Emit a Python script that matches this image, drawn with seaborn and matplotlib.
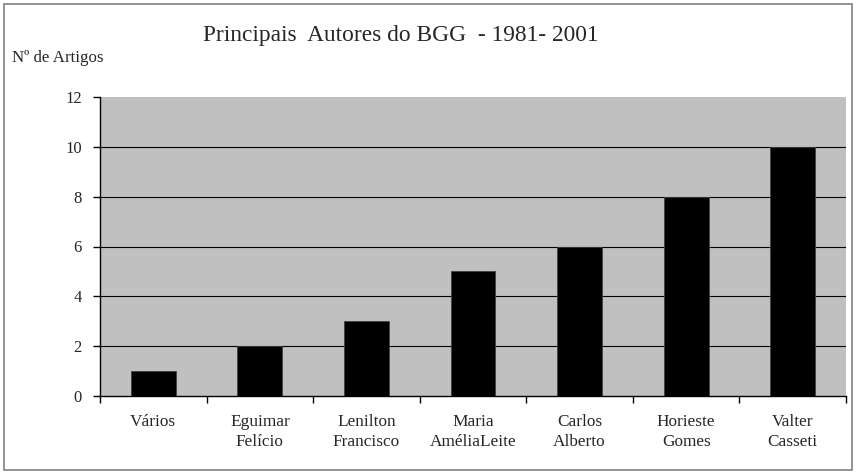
import matplotlib
matplotlib.use("Agg")
import matplotlib.pyplot as plt
import seaborn as sns
import pandas as pd
import numpy as np
from matplotlib.patches import Rectangle

categories = ["Vários", "Eguimar\nFelício", "Lenilton\nFrancisco", "Maria\nAméliaLeite",
              "Carlos\nAlberto", "Horieste\nGomes", "Valter\nCasseti"]
values = [1, 2, 3, 5, 6, 8, 10]
yticks = [0, 2, 4, 6, 8, 10, 12]
title = "Principais  Autores do BGG  - 1981- 2001"
ylabel = "Nº de Artigos"

sns.set_theme(style="white")
plt.rcParams['font.family'] = ['Liberation Serif', 'DejaVu Serif']

df = pd.DataFrame({"autor": categories, "artigos": values})

fig = plt.figure(figsize=(8.56, 4.74), dpi=100)
ax = fig.add_axes([100/856, 1-396/474, 746/856, 299/474])
ax.set_facecolor("#C0C0C0")

sns.barplot(data=df, x="autor", y="artigos", color="black", width=0.42,
            saturation=1, ax=ax, zorder=3, edgecolor="#404040", linewidth=0.6)

ax.set_ylim(0, 12)
ax.set_xlim(-0.5, len(categories) - 0.5)
ax.set_yticks(yticks)
ax.set_yticklabels([str(v) for v in yticks], fontsize=12)
for y in yticks[1:-1]:
    ax.axhline(y, color="black", linewidth=0.8, zorder=2)

ax.set_xticks(range(len(categories)))
ax.set_xticklabels(categories, fontsize=12.4, linespacing=1.3)
ax.set_xticks(np.arange(-0.5, len(categories), 1.0), minor=True)
ax.tick_params(axis="x", which="major", length=0, pad=13)
ax.tick_params(axis="x", which="minor", length=5, width=1, color="black", direction="out", bottom=True)
ax.tick_params(axis="y", length=5, width=1, color="black", direction="out", left=True, pad=8)

ax.set_xlabel("")
ax.set_ylabel("")
for s in ["top", "right"]:
    ax.spines[s].set_visible(False)
ax.spines["left"].set_color("black")
ax.spines["left"].set_linewidth(1)
ax.spines["bottom"].set_color("black")
ax.spines["bottom"].set_linewidth(1)

fig.text(401/856, 1-35/474, title, ha="center", va="center", fontsize=16.8)
fig.text(12/856, 1-58/474, ylabel, ha="left", va="center", fontsize=12.2)

fig.patches.append(Rectangle((4/856, 4/474), 848/856, 466/474, transform=fig.transFigure,
                             fill=False, edgecolor="#808080", linewidth=1.2))

fig.savefig("out.png", dpi=100)
